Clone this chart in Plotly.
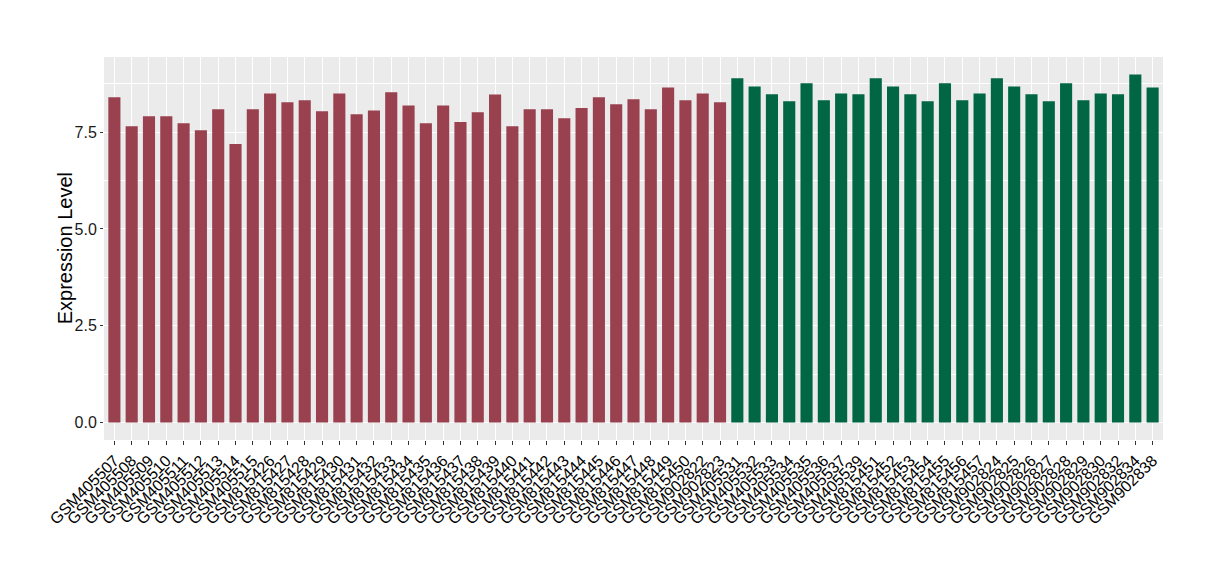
import plotly.graph_objects as go

group1_samples = [
    "GSM405507", "GSM405508", "GSM405509", "GSM405510", "GSM405511", "GSM405512",
    "GSM405513", "GSM405514", "GSM405515", "GSM815426", "GSM815427", "GSM815428",
    "GSM815429", "GSM815430", "GSM815431", "GSM815432", "GSM815433", "GSM815434",
    "GSM815435", "GSM815436", "GSM815437", "GSM815438", "GSM815439", "GSM815440",
    "GSM815441", "GSM815442", "GSM815443", "GSM815444", "GSM815445", "GSM815446",
    "GSM815447", "GSM815448", "GSM815449", "GSM815450", "GSM902822", "GSM902823",
]
group1_values = [
    8.40, 7.65, 7.91, 7.91, 7.73, 7.55, 8.09, 7.19, 8.09, 8.50, 8.27, 8.32,
    8.04, 8.50, 7.96, 8.06, 8.53, 8.19, 7.73, 8.19, 7.76, 8.01, 8.47, 7.65,
    8.09, 8.09, 7.86, 8.12, 8.40, 8.22, 8.35, 8.09, 8.65, 8.32, 8.50, 8.27,
]
group2_samples = [
    "GSM405531", "GSM405532", "GSM405533", "GSM405534", "GSM405535", "GSM405536",
    "GSM405537", "GSM405539", "GSM815451", "GSM815452", "GSM815453", "GSM815454",
    "GSM815455", "GSM815456", "GSM815457", "GSM902824", "GSM902825", "GSM902826",
    "GSM902827", "GSM902828", "GSM902829", "GSM902830", "GSM902832", "GSM902834",
    "GSM902838",
]
group2_values = [
    8.89, 8.68, 8.48, 8.30, 8.76, 8.32, 8.50, 8.48, 8.89, 8.68, 8.48, 8.30,
    8.76, 8.32, 8.50, 8.89, 8.68, 8.48, 8.30, 8.76, 8.32, 8.50, 8.48, 8.99,
    8.65,
]
group_colors = ["#9A4150", "#006644"]
y_ticks = [0.0, 2.5, 5.0, 7.5]

samples = group1_samples + group2_samples
values = group1_values + group2_values
colors = [group_colors[0]] * len(group1_samples) + [group_colors[1]] * len(group2_samples)

fig = go.Figure(
    go.Bar(
        x=samples,
        y=values,
        marker=dict(color=colors, line=dict(width=0)),
        showlegend=False,
    )
)

n = len(samples)
ymax = max(values)
fig.update_layout(
    width=1220,
    height=580,
    margin=dict(l=96, r=65, t=49, b=148),
    paper_bgcolor="white",
    plot_bgcolor="#EBEBEB",
    bargap=0.3,
    font=dict(family="Liberation Sans, Arial, sans-serif", color="black"),
    xaxis=dict(
        type="category",
        range=[-0.6, n - 1 + 0.6],
        tickmode="array",
        tickvals=samples,
        ticktext=samples,
        tickangle=-45,
        tickfont=dict(size=16, color="black"),
        showgrid=True,
        gridcolor="white",
        gridwidth=1.1,
        ticks="outside",
        ticklen=4,
        tickcolor="#333333",
        zeroline=False,
        showline=False,
        automargin=False,
    ),
    yaxis=dict(
        range=[-0.05 * ymax, 1.05 * ymax],
        tickvals=y_ticks,
        ticktext=[f"{v:.1f}" for v in y_ticks],
        tickfont=dict(size=16, color="#1a1a1a"),
        showgrid=True,
        gridcolor="white",
        gridwidth=1.1,
        minor=dict(dtick=1.25, tick0=0, showgrid=True, gridcolor="white", gridwidth=0.5),
        ticks="outside",
        ticklen=3,
        tickcolor="#333333",
        zeroline=False,
        showline=False,
        automargin=False,
    ),
    annotations=[
        dict(
            text="Expression Level",
            xref="paper", yref="paper",
            x=-0.037, y=0.5,
            xanchor="center", yanchor="middle",
            textangle=-90,
            showarrow=False,
            font=dict(size=20, color="black"),
        )
    ],
)

fig.write_html("out.html")
